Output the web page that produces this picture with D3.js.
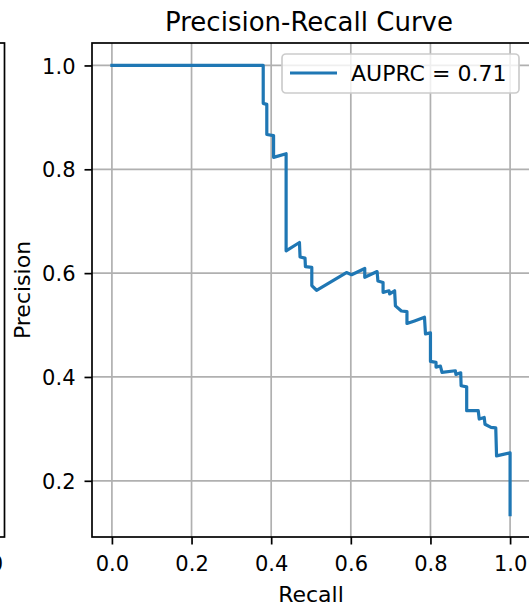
<!DOCTYPE html>
<html>
<head>
<meta charset="utf-8">
<script src="https://cdn.jsdelivr.net/npm/d3@7"></script>
<style>
  html, body { margin: 0; padding: 0; background: #fff; overflow: hidden; }
  svg { display: block; font-family: "DejaVu Sans", sans-serif; }
</style>
</head>
<body>
<svg id="chart" width="529" height="607"></svg>
<script>
// ---- Data ----
const recall = [0.000, 0.380, 0.380, 0.389, 0.389, 0.406, 0.406, 0.4375, 0.4375, 0.471, 0.4725, 0.485, 0.486, 0.502, 0.502, 0.514,
  0.589, 0.602, 0.635, 0.635, 0.666, 0.668, 0.681, 0.681, 0.696, 0.6975, 0.710, 0.712, 0.727, 0.741, 0.741, 0.760, 0.785, 0.7875,
  0.800, 0.800, 0.814, 0.814, 0.825, 0.829, 0.8625, 0.864, 0.876, 0.877, 0.891, 0.891, 0.920, 0.9225, 0.935, 0.937, 0.952, 0.964,
  0.966, 1.000, 1.000];
const precision = [1.000, 1.000, 0.927, 0.925, 0.867, 0.865, 0.823, 0.830, 0.643, 0.659, 0.631, 0.629, 0.6125, 0.611, 0.576, 0.567,
  0.601, 0.597, 0.609, 0.592, 0.603, 0.585, 0.582, 0.563, 0.566, 0.560, 0.566, 0.537, 0.527, 0.526, 0.503, 0.508, 0.515, 0.483,
  0.485, 0.430, 0.428, 0.419, 0.421, 0.409, 0.412, 0.405, 0.408, 0.383, 0.381, 0.335, 0.335, 0.319, 0.322, 0.309, 0.303, 0.302,
  0.248, 0.254, 0.135];
const xTicks = [0.0, 0.2, 0.4, 0.6, 0.8, 1.0];
const yTicks = [0.2, 0.4, 0.6, 0.8, 1.0];
const titleText = "Precision-Recall Curve";
const xLabel = "Recall";
const yLabel = "Precision";
const legendLabel = "AUPRC = 0.71";

// ---- Layout ----
const svg = d3.select("#chart");
const L = 92, R = 530, T = 43, B = 537;
const color = "#1f77b4";
const tickFont = 21;

function padded(ext) { const r = ext[1] - ext[0]; return [ext[0] - 0.05 * r, ext[1] + 0.05 * r]; }
const x = d3.scaleLinear().domain(padded(d3.extent(recall))).range([L, R]);
const y = d3.scaleLinear().domain(padded(d3.extent(precision))).range([B, T]);

// ---- Partial neighbouring subplot on the left ----
svg.append("rect").attr("x", -500).attr("y", T).attr("width", 504.5).attr("height", B - T)
  .attr("fill", "none").attr("stroke", "#000").attr("stroke-width", 1.7);
svg.append("text").attr("x", 3).attr("y", 570.5).attr("text-anchor", "end")
  .attr("font-size", tickFont).attr("fill", "#000").text("1.0");

// ---- Grid ----
const g = svg.append("g");
g.selectAll(".vg").data(xTicks).join("line")
  .attr("x1", d => x(d)).attr("x2", d => x(d)).attr("y1", T).attr("y2", B)
  .attr("stroke", "#b0b0b0").attr("stroke-width", 1.7);
g.selectAll(".hg").data(yTicks).join("line")
  .attr("x1", L).attr("x2", R).attr("y1", d => y(d)).attr("y2", d => y(d))
  .attr("stroke", "#b0b0b0").attr("stroke-width", 1.7);

// ---- Curve ----
const pts = recall.map((r, i) => [r, precision[i]]);
svg.append("path").datum(pts)
  .attr("d", d3.line().x(d => x(d[0])).y(d => y(d[1])))
  .attr("fill", "none").attr("stroke", color).attr("stroke-width", 3.2)
  .attr("stroke-linejoin", "round").attr("stroke-linecap", "square");

// ---- Axes ----
const xAxis = d3.axisBottom(x).tickValues(xTicks).tickFormat(d3.format(".1f")).tickSize(7.5).tickPadding(7);
const yAxis = d3.axisLeft(y).tickValues(yTicks).tickFormat(d3.format(".1f")).tickSize(7.5).tickPadding(9);
const gx = svg.append("g").attr("transform", `translate(0,${B})`).call(xAxis);
const gy = svg.append("g").attr("transform", `translate(${L},0)`).call(yAxis);
[gx, gy].forEach(a => {
  a.select(".domain").remove();
  a.selectAll(".tick line").attr("stroke", "#000").attr("stroke-width", 1.7);
  a.selectAll(".tick text").attr("font-size", tickFont).attr("fill", "#000")
    .attr("font-family", "DejaVu Sans, sans-serif");
});
gx.selectAll(".tick text").attr("dy", null).attr("y", 33.5);
gy.selectAll(".tick text").attr("dy", null).attr("dominant-baseline", null).attr("y", 7.6);

// frame
svg.append("rect").attr("x", L).attr("y", T).attr("width", R - L).attr("height", B - T)
  .attr("fill", "none").attr("stroke", "#000").attr("stroke-width", 1.7);

// ---- Labels ----
svg.append("text").attr("x", (L + R) / 2 - 2).attr("y", 30.5).attr("text-anchor", "middle")
  .attr("font-size", 26).attr("fill", "#000").text(titleText);
svg.append("text").attr("x", (L + R) / 2).attr("y", 601.5).attr("text-anchor", "middle")
  .attr("font-size", 22).attr("fill", "#000").text(xLabel);
svg.append("text").attr("transform", `translate(29.5,${(T + B) / 2}) rotate(-90)`).attr("text-anchor", "middle")
  .attr("font-size", 22).attr("fill", "#000").text(yLabel);

// ---- Legend ----
const lg = svg.append("g");
lg.append("rect").attr("x", 282).attr("y", 54).attr("width", 237).attr("height", 39)
  .attr("rx", 4).attr("fill", "#fff").attr("fill-opacity", 0.8)
  .attr("stroke", "#cccccc").attr("stroke-width", 1.7);
lg.append("line").attr("x1", 290).attr("x2", 337).attr("y1", 73).attr("y2", 73)
  .attr("stroke", color).attr("stroke-width", 3.2);
lg.append("text").attr("x", 351).attr("y", 81).attr("font-size", 22).attr("fill", "#000").text(legendLabel);
</script>
</body>
</html>
